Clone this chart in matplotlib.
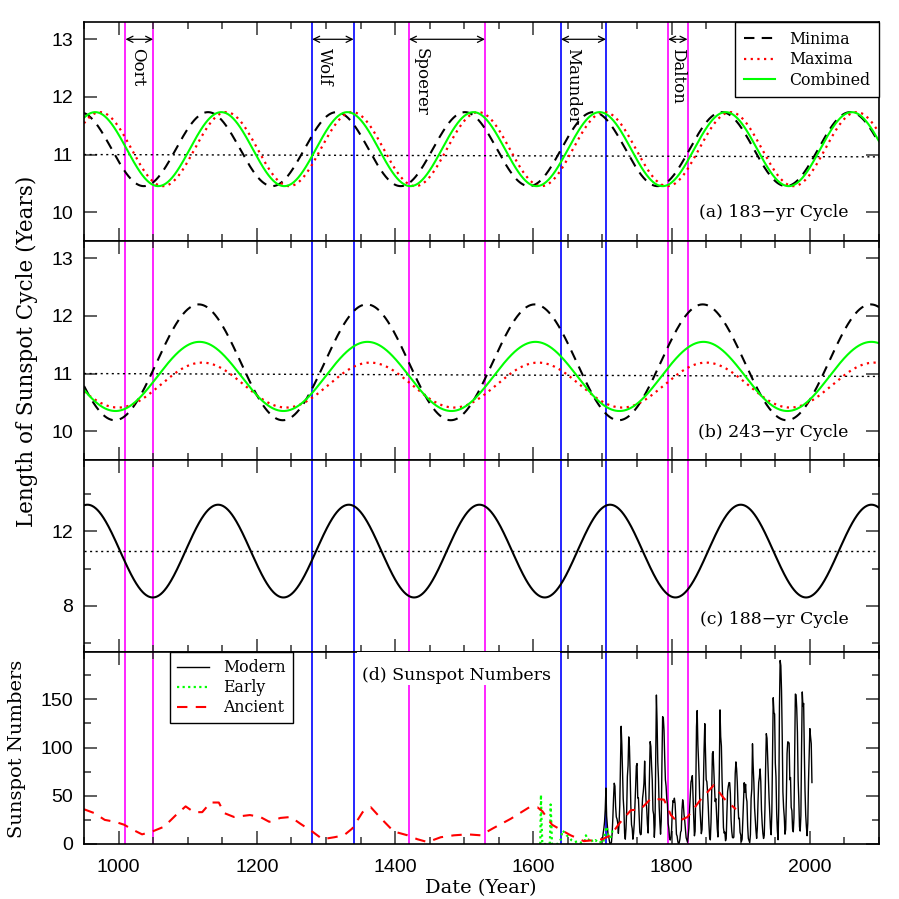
"""
Sunspot cycle length variations: 183-, 243- and 188-yr cycles and sunspot numbers
"""
import numpy as np
import matplotlib.pyplot as plt
from matplotlib.ticker import MultipleLocator
from matplotlib.patches import Rectangle

# grand minima
minima_names = ['Oort', 'Wolf', 'Spoerer', 'Maunder', 'Dalton']
minima_start = [1010, 1280, 1420, 1640, 1795]
minima_end = [1050, 1340, 1530, 1705, 1823]
minima_colors = ['#ff00ff', '#0000ff', '#ff00ff', '#0000ff', '#ff00ff']

# sinusoid fits, order: Minima, Maxima, Combined
a_period = [185.8, 182.4, 182.4]
a_peak = [1129.4, 1155.6, 1148.6]
a_mean = [11.094, 11.094, 11.094]
a_amp = [0.642, 0.642, 0.642]

b_period = [243.0, 243.0, 243.0]
b_peak = [1116.0, 1121.0, 1117.0]
b_mean = [11.195, 10.80, 10.95]
b_amp = [1.005, 0.39, 0.60]

c_period = 189.0
c_peak = 1144.0
c_mean = 10.94
c_amp = 2.5

# dotted reference lines (value at 950 and at 2100)
trend_years = [950, 2100]
a_trend = [11.0, 10.96]
b_trend = [11.0, 10.95]
c_trend = [10.92, 10.92]

# (d) sunspot numbers
modern_vals = [
    5, 11, 16, 23, 36, 58, 29, 20, 10, 8,
    3, 0, 0, 2, 11, 27, 47, 63, 60, 39,
    28, 26, 22, 11, 21, 40, 78, 122, 103, 73,
    47, 35, 11, 5, 16, 34, 70, 81, 111, 101,
    73, 40, 20, 16, 5, 11, 22, 40, 60, 80.9,
    83.4, 47.7, 47.8, 30.7, 12.2, 9.6, 10.2, 32.4, 47.6, 54.0,
    62.9, 85.9, 61.2, 45.1, 36.4, 20.9, 11.4, 37.8, 69.8, 106.1,
    100.8, 81.6, 66.5, 34.8, 30.6, 7.0, 19.8, 92.5, 154.4, 125.9,
    84.8, 68.1, 38.5, 22.8, 10.2, 24.1, 82.9, 132.0, 130.9, 118.1,
    89.9, 66.6, 60.0, 46.9, 41.0, 21.3, 16.0, 6.4, 4.1, 6.8,
    14.5, 34.0, 45.0, 43.1, 47.5, 42.2, 28.1, 10.1, 8.1, 2.5,
    0.0, 1.4, 5.0, 12.2, 13.9, 35.4, 45.8, 41.0, 30.1, 23.9,
    15.6, 6.6, 4.0, 1.8, 8.5, 16.6, 36.3, 49.6, 64.2, 67.0,
    70.9, 47.8, 27.5, 8.5, 13.2, 56.9, 121.5, 138.3, 103.2, 85.7,
    64.6, 36.7, 24.2, 10.7, 15.0, 40.1, 61.5, 98.5, 124.7, 96.3,
    66.6, 64.5, 54.1, 39.0, 20.6, 6.7, 4.3, 22.7, 54.8, 93.8,
    95.8, 77.2, 59.1, 44.0, 47.0, 30.5, 16.3, 7.3, 37.6, 74.0,
    139.0, 111.2, 101.6, 66.2, 44.7, 17.0, 11.3, 12.4, 3.4, 6.0,
    32.3, 54.3, 59.7, 63.7, 63.5, 52.2, 25.4, 13.1, 6.8, 6.3,
    7.1, 35.6, 73.0, 85.1, 78.0, 64.0, 41.8, 26.2, 26.7, 12.1,
    9.5, 2.7, 5.0, 24.4, 42.0, 63.5, 53.8, 62.0, 48.5, 43.9,
    18.6, 5.7, 3.6, 1.4, 9.6, 47.4, 57.1, 103.9, 80.6, 63.6,
    37.6, 26.1, 14.2, 5.8, 16.7, 44.3, 63.9, 69.0, 77.8, 64.9,
    35.7, 21.2, 11.1, 5.7, 8.7, 36.1, 79.7, 114.4, 109.6, 88.8,
    67.8, 47.5, 30.6, 16.3, 9.6, 33.2, 92.6, 151.6, 136.3, 134.7,
    83.9, 69.4, 31.5, 13.9, 4.4, 38.0, 141.7, 190.2, 184.8, 159.0,
    112.3, 53.9, 37.6, 27.9, 10.2, 15.1, 47.0, 93.8, 105.9, 105.5,
    104.5, 66.6, 68.9, 38.0, 34.5, 15.5, 12.6, 27.5, 92.5, 155.4,
    154.6, 140.4, 115.9, 66.6, 45.9, 17.9, 13.4, 29.4, 100.2, 157.6,
    142.6, 145.7, 94.3, 54.6, 29.9, 17.5, 8.6, 21.5, 64.3, 93.3,
    119.6, 111.0, 104.0, 63.7,
]
modern_years = np.arange(1700, 1700 + len(modern_vals))

early_years = [1610, 1611, 1612, 1613, 1620, 1623, 1624, 1625, 1626, 1627,
               1635, 1640, 1642, 1645, 1648, 1652, 1655, 1660, 1665, 1670,
               1674, 1676, 1679, 1683, 1686, 1690, 1694, 1698, 1701, 1704,
               1706, 1708, 1711, 1713, 1715]
early_vals = [0, 51, 20, 0, 0, 0, 2, 41, 22, 0,
              0, 5, 14, 12, 9, 7, 4, 2, 3, 1,
              2, 9, 4, 6, 2, 4, 1, 2, 1, 12,
              18, 10, 6, 9, 16]

ancient_years = [950, 965, 980, 995, 1008, 1020, 1034, 1049, 1066, 1083,
                 1097, 1109, 1121, 1133, 1145, 1153, 1167, 1190, 1205, 1218,
                 1234, 1249, 1263, 1280, 1295, 1312, 1326, 1338, 1353, 1365,
                 1379, 1398, 1418, 1432, 1447, 1466, 1485, 1505, 1524, 1541,
                 1567, 1594, 1606, 1613, 1627, 1644, 1654, 1673, 1688, 1700,
                 1712, 1724, 1741, 1755, 1770, 1789, 1799, 1808, 1823, 1842,
                 1861, 1876, 1893]
ancient_vals = [36, 32, 25, 23, 20, 15, 10, 13, 18, 30,
                39, 33, 33, 43, 43, 32, 28, 30, 28, 23,
                27, 28, 21, 13, 5, 7, 9, 16, 33, 38,
                27, 13, 9, 5, 2, 7, 9, 10, 9, 16,
                26, 38, 38, 34, 20, 13, 9, 3, 4, 5,
                9, 21, 35, 36, 47, 46, 30, 23, 28, 46,
                61, 47, 36]

serif = 'DejaVu Serif'
plt.rcParams['font.family'] = 'Liberation Sans'

W = H = 899
fig = plt.figure(figsize=(W / 100, H / 100), dpi=100)


def add_panel(top, bottom, left=84, right=879):
    return fig.add_axes([left / W, 1 - bottom / H, (right - left) / W, (bottom - top) / H])


ax_a = add_panel(22, 241)
ax_b = add_panel(241, 460)
ax_c = add_panel(460, 652)
ax_d = add_panel(652, 844)
axes = [ax_a, ax_b, ax_c, ax_d]

yrs = np.arange(950, 2100.5, 0.5)


def cycle(period, peak, mean, amp):
    return mean + amp * np.cos(2 * np.pi * (yrs - peak) / period)


cyc_labels = ['Minima', 'Maxima', 'Combined']
cyc_styles = [dict(color='k', ls=(0, (5, 3.5)), lw=1.5),
              dict(color='#ff0000', ls=(0, (1, 2)), lw=1.6),
              dict(color='#00ff00', ls='-', lw=1.5)]

for ax, per, pk, mn, am, tr in [(ax_a, a_period, a_peak, a_mean, a_amp, a_trend),
                                (ax_b, b_period, b_peak, b_mean, b_amp, b_trend)]:
    ax.plot(trend_years, tr, color='k', ls=(0, (1.5, 2.5)), lw=1.0)
    for i in range(3):
        ax.plot(yrs, cycle(per[i], pk[i], mn[i], am[i]), label=cyc_labels[i], **cyc_styles[i])

ax_c.plot(trend_years, c_trend, color='k', ls=(0, (1.5, 2.5)), lw=1.0)
ax_c.plot(yrs, cycle(c_period, c_peak, c_mean, c_amp), color='k', lw=1.5)

ax_d.plot(modern_years, modern_vals, color='k', lw=1.0, label='Modern')
ax_d.plot(early_years, early_vals, color='#00ff00', ls=(0, (1, 1.5)), lw=1.6, label='Early')
ax_d.plot(ancient_years, ancient_vals, color='#ff0000', ls=(0, (5, 4)), lw=1.5, label='Ancient')

# grand minima markers
for ax in axes:
    for s, e, c in zip(minima_start, minima_end, minima_colors):
        ax.axvline(s, color=c, lw=1.2, zorder=1.5)
        ax.axvline(e, color=c, lw=1.2, zorder=1.5)

px_per_year = 795 / 1150
for name, s, e in zip(minima_names, minima_start, minima_end):
    ax_a.annotate('', xy=(e, 13.0), xytext=(s, 13.0),
                  arrowprops=dict(arrowstyle='<->', lw=0.9, color='k',
                                  shrinkA=0, shrinkB=0, mutation_scale=11))
    off = min(12, (e - s) * px_per_year / 2) * 0.72
    ax_a.annotate(name, xy=(s, 13.0), xytext=(off, -6), textcoords='offset points',
                  rotation=270, ha='center', va='top', fontsize=12, family=serif)

# limits and ticks
ylims = [(9.5, 13.3), (9.5, 13.3), (5.5, 15.85), (0, 199)]
ymaj = [1, 1, 4, 50]
ymin = [None, None, 2, 25]
for ax, yl, mj, mi in zip(axes, ylims, ymaj, ymin):
    ax.set_xlim(950, 2100)
    ax.set_ylim(*yl)
    ax.xaxis.set_major_locator(MultipleLocator(200))
    ax.xaxis.set_minor_locator(MultipleLocator(50))
    ax.yaxis.set_major_locator(MultipleLocator(mj))
    if mi:
        ax.yaxis.set_minor_locator(MultipleLocator(mi))
    ax.tick_params(which='both', direction='in', top=True, right=True,
                   width=1.1, color='#333333', labelsize=14)
    ax.tick_params(which='major', length=9.5)
    ax.tick_params(which='minor', length=4.8)
    ax.tick_params(axis='y', pad=8)
    ax.tick_params(axis='x', pad=11)
    for sp in ax.spines.values():
        sp.set_linewidth(1.2)
    if ax is not ax_d:
        ax.tick_params(labelbottom=False)

# panel labels
ax_a.text(0.962, 0.129, '(a) 183\u2212yr Cycle', transform=ax_a.transAxes,
          ha='right', va='center', fontsize=12.5, family=serif)
ax_b.text(0.962, 0.126, '(b) 243\u2212yr Cycle', transform=ax_b.transAxes,
          ha='right', va='center', fontsize=12.5, family=serif)
ax_c.text(0.962, 0.167, '(c) 188\u2212yr Cycle', transform=ax_c.transAxes,
          ha='right', va='center', fontsize=12.5, family=serif)
ax_d.add_patch(Rectangle((0.343, 0.828), 0.256, 0.172, transform=ax_d.transAxes,
                         facecolor='white', edgecolor='none', zorder=3))
ax_d.text(0.469, 0.88, '(d) Sunspot Numbers', transform=ax_d.transAxes,
          ha='center', va='center', fontsize=12.5, family=serif, zorder=4)

leg_kw = dict(frameon=True, fancybox=False, framealpha=1,
              borderaxespad=0, handlelength=2.0, handletextpad=0.9,
              prop={'family': serif, 'size': 11.3})
lg = ax_a.legend(loc='upper right', bbox_to_anchor=(1, 1), labelspacing=0.22,
                 borderpad=0.55, **leg_kw)
lg.get_frame().set_edgecolor('k')
lg.get_frame().set_linewidth(1.0)
lg = ax_d.legend(loc='upper left', bbox_to_anchor=(0.1086, 1), labelspacing=0.2,
                 borderpad=0.45, **leg_kw)
lg.get_frame().set_edgecolor('k')
lg.get_frame().set_linewidth(1.0)
lg.set_zorder(5)

# axis titles
fig.text(27 / W, 1 - 351 / H, 'Length of Sunspot Cycle (Years)', rotation=90,
         ha='center', va='center', fontsize=15.5, family=serif)
fig.text(17.5 / W, 1 - 749 / H, 'Sunspot Numbers', rotation=90,
         ha='center', va='center', fontsize=14, family=serif)
fig.text(481 / W, 1 - 888 / H, 'Date (Year)', ha='center', va='center',
         fontsize=14, family=serif)

fig.savefig('out.png', dpi=100)
